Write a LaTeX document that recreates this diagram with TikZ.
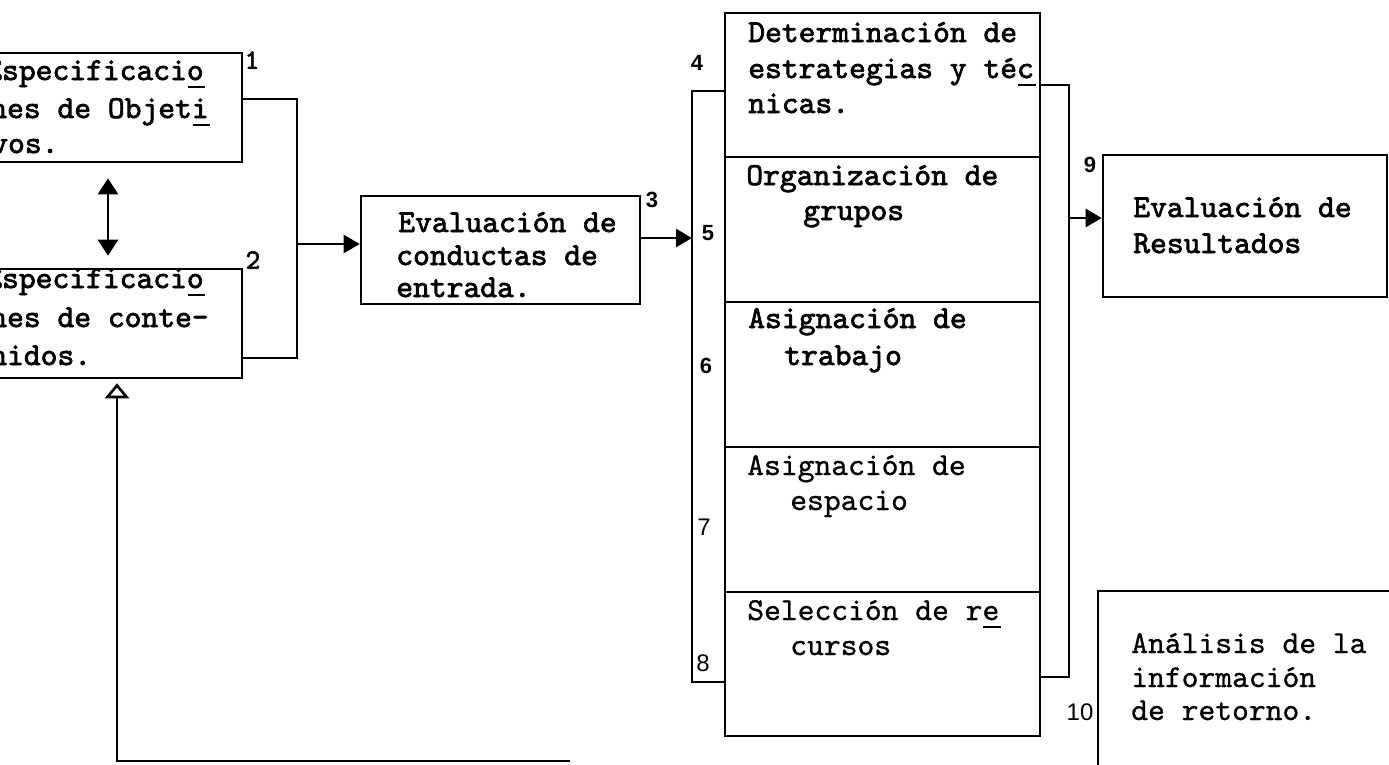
\documentclass[tikz,border=0pt]{standalone}
\usepackage{fontspec}
\usetikzlibrary{arrows.meta,calc}
\newfontfamily\twa{lmmono10-regular}[Extension=.otf,FakeBold=2.2]
\newfontfamily\twb{lmmono10-regular}[Extension=.otf,FakeBold=0.8]
\newfontfamily\numsans{Liberation Sans}
\newcommand\brk[1]{#1\rlap{\kern-0.5em\raisebox{-8pt}{\rule{0.55em}{2pt}}}}
\begin{document}
\begin{tikzpicture}[x=1pt,y=-1pt,line width=2.6pt,
  box/.style={draw,rectangle,inner sep=0pt,line width=2.6pt},
  tA/.style={anchor=base west,inner sep=0pt,font=\twa\fontsize{32}{36}\selectfont},
  tB/.style={anchor=base west,inner sep=0pt,font=\twb\fontsize{32}{36}\selectfont},
  nB/.style={anchor=center,inner sep=0pt,font=\numsans\bfseries\fontsize{22}{22}\selectfont},
  nL/.style={anchor=center,inner sep=0pt,font=\numsans\fontsize{24}{24}\selectfont},
  nM/.style={anchor=center,inner sep=0pt,font=\twa\fontsize{28}{28}\selectfont},
  arr/.style={-{Triangle[length=16pt,width=18pt]}},
  darr/.style={{Triangle[length=16pt,width=20pt]}-{Triangle[length=16pt,width=20pt]}},
  oarr/.style={-{Triangle[open,length=15pt,width=24pt]}}]
\useasboundingbox (0,0) rectangle (1389,764);
\clip (0,0) rectangle (1389,764);
% boxes
\node[box,minimum width=272pt,minimum height=109pt] (b1) at (106,107.5) {};
\node[box,minimum width=272pt,minimum height=109pt] (b2) at (106,323.5) {};
\node[box,minimum width=279pt,minimum height=108pt] (b3) at (500.5,250) {};
\node[box,minimum width=315pt,minimum height=144pt] (c1) at (882.5,85) {};
\node[box,minimum width=315pt,minimum height=145pt] (c2) at (882.5,229.5) {};
\node[box,minimum width=315pt,minimum height=145pt] (c3) at (882.5,374.5) {};
\node[box,minimum width=315pt,minimum height=145pt] (c4) at (882.5,519.5) {};
\node[box,minimum width=315pt,minimum height=144pt] (c5) at (882.5,664) {};
\node[box,minimum width=284pt,minimum height=142pt] (b9) at (1245,226) {};
\node[box,minimum width=342pt,minimum height=229pt] (b10) at (1269,705.5) {};
% texts
\node[tA] (t1a) at (-16,80) {Especificaci\brk{o}};
\node[tA] (t1b) at (-11,118) {nes de Objet\brk{i}};
\node[tA] (t1c) at (-10,153) {vos.};
\node[tA] (t2a) at (-16,288) {Especificaci\brk{o}};
\node[tA] (t2b) at (-11,327) {nes de conte-};
\node[tA] (t2c) at (-11,365) {nidos.};
\node[tA] (t3a) at (397,232) {Evaluación de};
\node[tA] (t3b) at (395,265) {conductas de};
\node[tA] (t3c) at (395,297) {entrada.};
\node[tA] (tc1a) at (747,42) {Determinación de};
\node[tA] (tc1b) at (747,78) {estrategias y té\brk{c}};
\node[tA] (tc1c) at (747,113) {nicas.};
\node[tA] (tc2a) at (745,185) {Organización de};
\node[tA] (tc2b) at (802,220) {grupos};
\node[tA] (tc3a) at (747,328) {Asignación de};
\node[tA] (tc3b) at (783,365) {trabajo};
\node[tB] (tc4a) at (746,475) {Asignación de};
\node[tB] (tc4b) at (789,510) {espacio};
\node[tB] (tc5a) at (746,620) {Selección de r\brk{e}};
\node[tB] (tc5b) at (789,655) {cursos};
\node[tA] (t9a) at (1132,217) {Evaluación de};
\node[tA] (t9b) at (1132,253) {Resultados};
\node[tB] (t10a) at (1130,653) {Análisis de la};
\node[tB] (t10b) at (1130,687) {información};
\node[tB] (t10c) at (1130,720) {de retorno.};
% numbers
\node[nM] (n1) at (252,60) {1};
\node[nM] (n2) at (253,260) {2};
\node[nB] (n3) at (652,200) {3};
\node[nB] (n4) at (697,63) {4};
\node[nB] (n5) at (708,233) {5};
\node[nB] (n6) at (706,366) {6};
\node[nL] (n7) at (704,527) {7};
\node[nL] (n8) at (703,663) {8};
\node[nB] (n9) at (1090,165) {9};
\node[nL] (n10) at (1080,712) {10};
% connectors
\coordinate (jx) at (297,244);
\draw ([yshift=8.5pt]b1.east) -| (jx) |- ([yshift=-34.5pt]b2.east);
\draw[arr] (jx) -- (b3.west |- jx);
\draw[darr] ($(b1.south)+(2,15)$) -- ($(b2.north)+(2,-12)$);
\coordinate (lbt) at (692,91);
\coordinate (lbb) at (692,682);
\draw ([yshift=-6pt]c1.west) -- (lbt) -- (lbb) -- ([yshift=-18pt]c5.west);
\draw[arr] ([yshift=12pt]b3.east) -- ([yshift=12pt]b3.east -| lbt);
\coordinate (rbt) at (1069,85);
\coordinate (rbb) at (1069,677);
\draw (c1.east) -- (rbt) -- (rbb) -- ([yshift=-13pt]c5.east);
\draw[arr] ([yshift=8pt]b9.west -| rbt) -- ([yshift=8pt]b9.west);
\coordinate (fe) at (570,761);
\coordinate (fc) at (117,761);
\draw[oarr] (fe) -- (fc) -- ([xshift=11pt,yshift=-4pt]b2.south);
\end{tikzpicture}
\end{document}
